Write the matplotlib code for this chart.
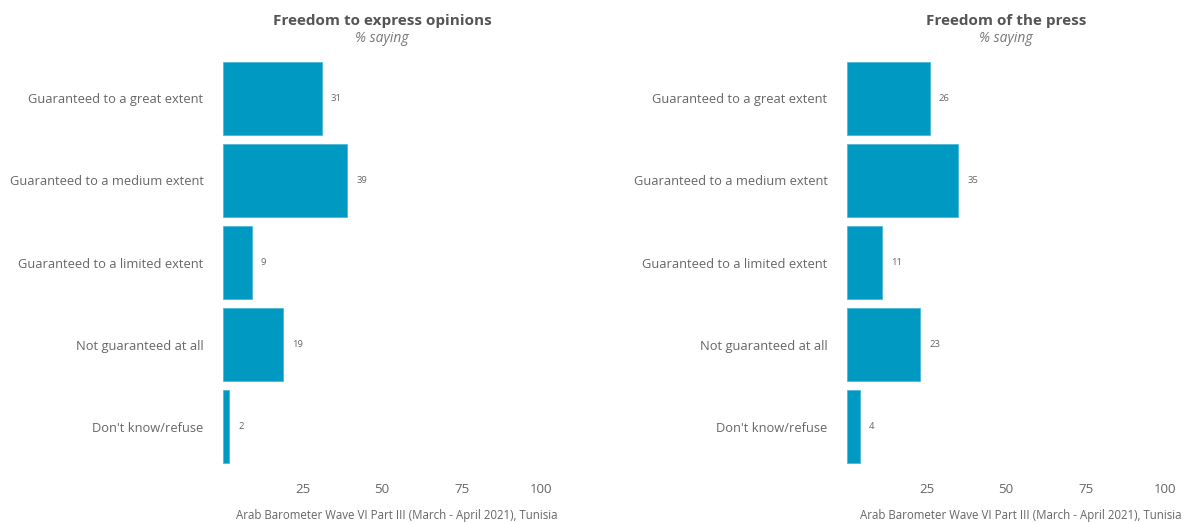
import numpy as np
from matplotlib import pyplot as plt

# Data
categories = ['Guaranteed to a great extent', 'Guaranteed to a medium extent',
              'Guaranteed to a limited extent', 'Not guaranteed at all',
              "Don't know/refuse"]
opinions = [31, 39, 9, 19, 2]
press = [26, 35, 11, 23, 4]
titles = ['Freedom to express opinions', 'Freedom of the press']
x_ticks = [25, 50, 75, 100]
caption = 'Arab Barometer Wave VI Part III (March - April 2021), Tunisia'

bar_color = '#0099c1'
text_grey = '#666666'

plt.rcParams['font.family'] = ['Open Sans', 'DejaVu Sans']

fig = plt.figure(figsize=(11.86, 5.23), dpi=100)
lefts = [223 / 1186, 847 / 1186]
width = 334 / 1186
bottom = 1 - 472 / 523
height = (472 - 53) / 523

y = np.arange(len(categories))
for left, values, title in zip(lefts, [opinions, press], titles):
    ax = fig.add_axes([left, bottom, width, height])
    ax.barh(y, values, height=0.89, color=bar_color, edgecolor='#4fb8d6', linewidth=0.6)
    for yi, v in zip(y, values):
        ax.annotate(str(v), (v, yi), xytext=(6.5, 0), textcoords='offset points',
                    va='center', ha='left', fontsize=6.8, color=text_grey)
    ax.set_xlim(0, 105)
    ax.set_ylim(len(categories) - 0.45, -0.55)
    ax.set_yticks(y)
    ax.set_yticklabels(categories, fontsize=9.3, color=text_grey)
    ax.set_xticks(x_ticks)
    ax.set_xticklabels([str(t) for t in x_ticks], fontsize=9.5, color=text_grey)
    ax.tick_params(axis='y', length=0, pad=14)
    ax.tick_params(axis='x', length=0, pad=8)
    for s in ax.spines.values():
        s.set_visible(False)
    ax.text(50, -0.85, title, ha='center', va='bottom', fontsize=11,
            fontweight='bold', color='#555555')
    ax.text(50, -0.63, '% saying', ha='center', va='bottom', fontsize=10,
            style='italic', color='#777777')
    ax.text(1, -0.104, caption, transform=ax.transAxes, ha='right', va='center',
            fontsize=8.3, color=text_grey)

fig.savefig('out.png', dpi=100)
